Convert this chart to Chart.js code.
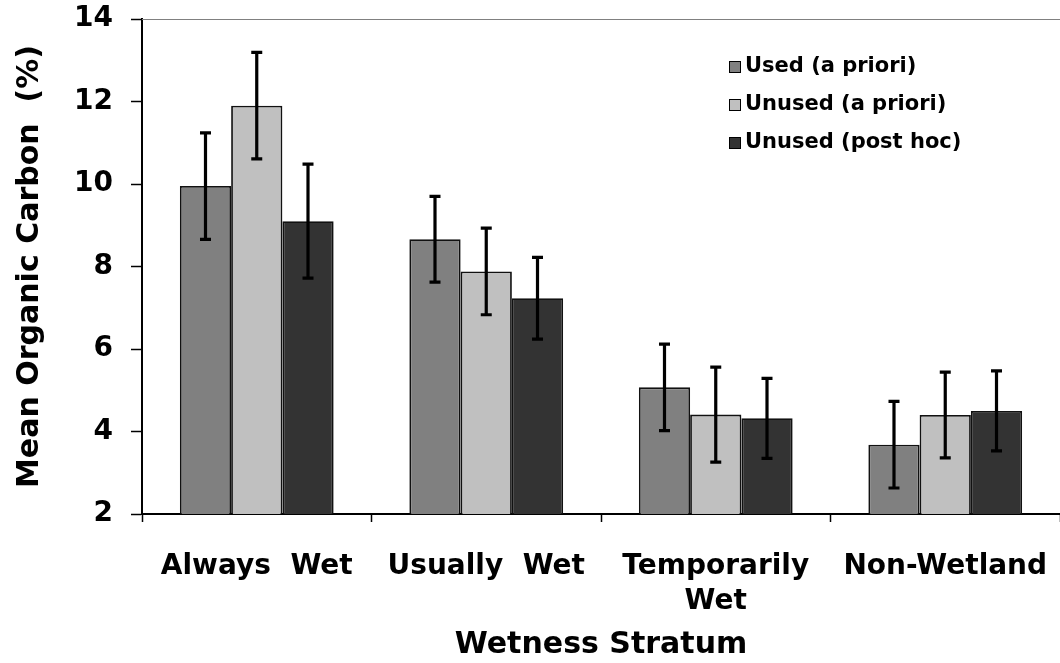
<!DOCTYPE html>
<html>
<head>
<meta charset="utf-8">
<script src="https://cdn.jsdelivr.net/npm/chart.js@4/dist/chart.umd.min.js"></script>
<style>
  html, body { margin: 0; padding: 0; background: #fff; }
  #wrap { width: 1060px; height: 663px; }
</style>
</head>
<body>
<div id="wrap"><canvas id="carbonChart" width="1060" height="663"></canvas></div>
<script>
const strata = [['Always  Wet'], ['Usually  Wet'], ['Temporarily', 'Wet'], ['Non-Wetland']];
const seriesNames = ['Used (a priori)', 'Unused (a priori)', 'Unused (post hoc)'];
const usedPriori = [9.95, 8.66, 5.07, 3.68];
const unusedPriori = [11.9, 7.88, 4.41, 4.4];
const unusedPostHoc = [9.1, 7.23, 4.32, 4.5];
const usedPrioriErr = [1.29, 1.04, 1.05, 1.05];
const unusedPrioriErr = [1.29, 1.05, 1.15, 1.04];
const unusedPostHocErr = [1.38, 0.99, 0.97, 0.97];
const yTicks = [2, 4, 6, 8, 10, 12, 14];

const barColors = ['#808080', '#c0c0c0', '#333333'];
const FONT = '"DejaVu Sans", Verdana, sans-serif';

// error bars drawn from the scales
const errorBars = {
  id: 'errorBars',
  afterDatasetsDraw(chart) {
    const ctx = chart.ctx;
    const y = chart.scales.y;
    ctx.save();
    ctx.strokeStyle = '#000';
    ctx.lineWidth = 3.2;
    chart.data.datasets.forEach((ds, i) => {
      chart.getDatasetMeta(i).data.forEach((bar, j) => {
        const v = ds.data[j], e = ds.errors[j];
        const top = y.getPixelForValue(v + e);
        const bot = y.getPixelForValue(v - e);
        ctx.beginPath();
        ctx.moveTo(bar.x, top); ctx.lineTo(bar.x, bot);
        ctx.moveTo(bar.x - 5.5, top); ctx.lineTo(bar.x + 5.5, top);
        ctx.moveTo(bar.x - 5.5, bot); ctx.lineTo(bar.x + 5.5, bot);
        ctx.stroke();
      });
    });
    ctx.restore();
  }
};

// top border line + legend inside plot
const frameAndLegend = {
  id: 'frameAndLegend',
  afterDraw(chart) {
    const ctx = chart.ctx;
    const a = chart.chartArea;
    ctx.save();
    ctx.strokeStyle = '#808080';
    ctx.lineWidth = 1;
    ctx.beginPath();
    ctx.moveTo(a.left, a.top + 0.5);
    ctx.lineTo(a.right, a.top + 0.5);
    ctx.stroke();

    ctx.font = 'bold 21px ' + FONT;
    ctx.textBaseline = 'middle';
    chart.data.datasets.forEach((ds, i) => {
      const cy = 67 + i * 38;
      ctx.fillStyle = ds.backgroundColor;
      ctx.fillRect(729, cy - 6, 12, 12);
      ctx.strokeStyle = '#000';
      ctx.lineWidth = 1;
      ctx.strokeRect(729.5, cy - 5.5, 11, 11);
      ctx.fillStyle = '#000';
      ctx.fillText(ds.label, 745, cy);
    });
    ctx.restore();
  }
};

new Chart(document.getElementById('carbonChart'), {
  type: 'bar',
  data: {
    labels: strata,
    datasets: [
      { label: seriesNames[0], data: usedPriori, errors: usedPrioriErr, backgroundColor: barColors[0] },
      { label: seriesNames[1], data: unusedPriori, errors: unusedPrioriErr, backgroundColor: barColors[1] },
      { label: seriesNames[2], data: unusedPostHoc, errors: unusedPostHocErr, backgroundColor: barColors[2] }
    ].map(d => Object.assign(d, { borderColor: '#111', borderWidth: 1.8, categoryPercentage: 0.67, barPercentage: 1 }))
  },
  options: {
    responsive: false,
    animation: false,
    layout: { padding: { top: 19, right: 0, left: 0, bottom: 0 } },
    plugins: { legend: { display: false }, tooltip: { enabled: false } },
    scales: {
      x: {
        grid: { drawOnChartArea: false, offset: true, tickLength: 8, tickColor: '#000', tickWidth: 1.5 },
        border: { color: '#000', width: 2 },
        ticks: { color: '#000', padding: 27, maxRotation: 0, font: { family: FONT, size: 28, weight: 'bold', lineHeight: 1.25 } },
        title: { display: true, text: 'Wetness Stratum', color: '#000', padding: { top: 4, bottom: 0 }, font: { family: FONT, size: 30, weight: 'bold' } },
        afterFit(scale) { scale.height = 149; scale.paddingLeft = 0; scale.paddingRight = 0; }
      },
      y: {
        min: 2, max: 14,
        afterBuildTicks(scale) { scale.ticks = yTicks.map(v => ({ value: v })); },
        grid: { drawOnChartArea: false, tickLength: 11, tickColor: '#000', tickWidth: 1.5 },
        border: { color: '#000', width: 2 },
        ticks: { color: '#000', padding: 18, font: { family: FONT, size: 28, weight: 'bold' } },
        title: { display: true, text: 'Mean Organic Carbon  (%)', color: '#000', padding: { top: 12, bottom: 0 }, font: { family: FONT, size: 30, weight: 'bold' } },
        afterFit(scale) { scale.width = 142; scale.paddingTop = 0; scale.paddingBottom = 0; }
      }
    }
  },
  plugins: [errorBars, frameAndLegend]
});
</script>
</body>
</html>
